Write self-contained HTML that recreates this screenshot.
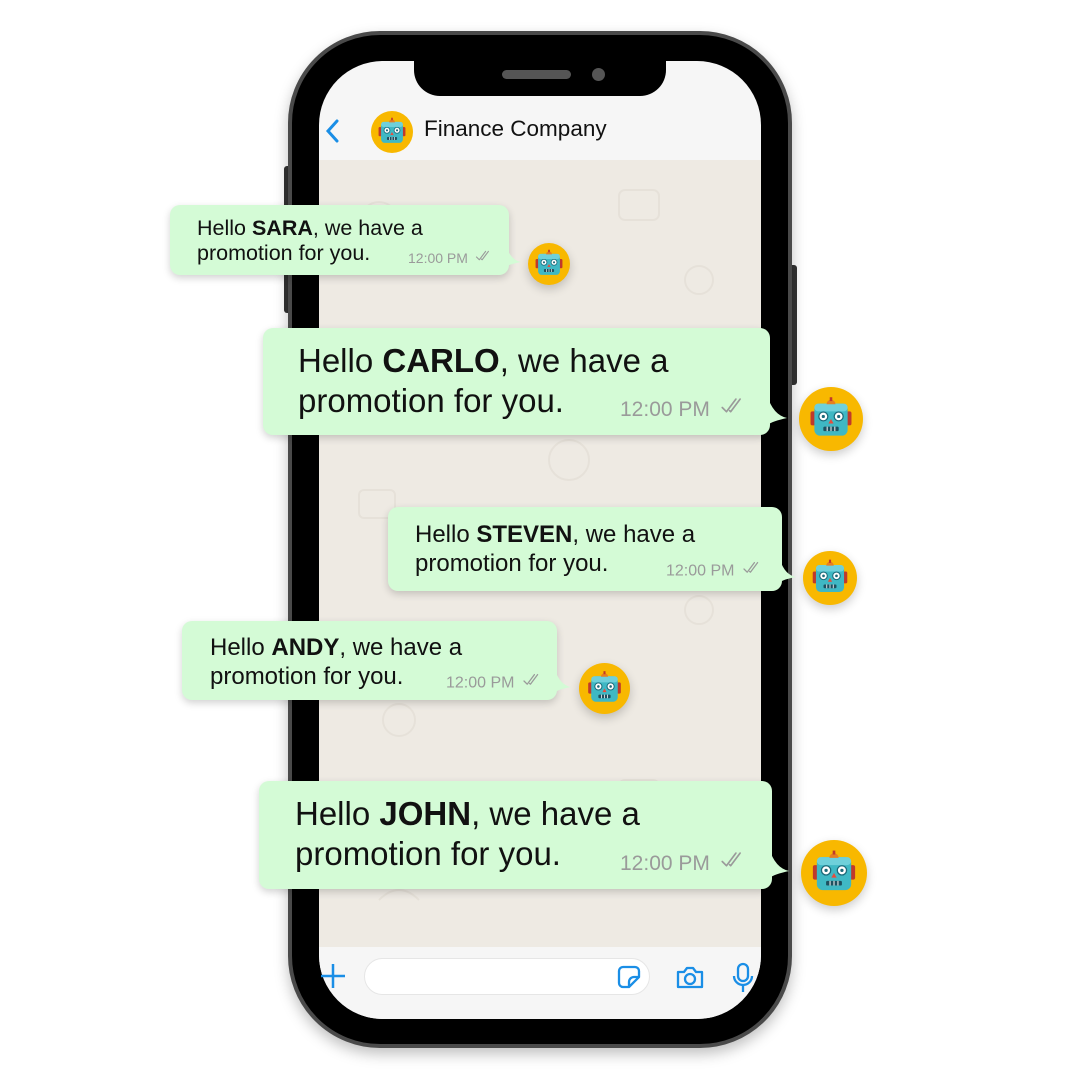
<!DOCTYPE html>
<html><head><meta charset="utf-8">
<style>
*{margin:0;padding:0;box-sizing:border-box}
body{width:1080px;height:1080px;background:#fff;position:relative;overflow:hidden;font-family:"Liberation Sans",sans-serif}
.abs{position:absolute}
.phone{left:288px;top:31px;width:504px;height:1017px;border-radius:92px;background:#000;border:4px solid #4a4a4a;box-shadow:0 6px 14px rgba(0,0,0,.25)}
.screen{left:319px;top:61px;width:442px;height:958px;border-radius:64px;background:#f6f6f6;overflow:hidden}
.chat{left:0;top:99px;width:442px;height:787px;background:#eeeae3}
.notch{left:414px;top:58px;width:252px;height:38px;background:#000;border-radius:0 0 26px 26px}
.bubble{background:#d4fbd6;border-radius:10px;box-shadow:0 3px 8px rgba(0,0,0,.18);color:#111}
.bubble b{font-weight:bold}
.time{color:#9a9a9a;position:absolute;white-space:nowrap}
.time svg{display:inline-block;width:1.35em;height:0.8em;margin-left:0.35em;vertical-align:0.1em}
.av{border-radius:50%;background:#f8b800;box-shadow:0 4px 10px rgba(0,0,0,.2)}
.av svg{width:100%;height:100%;display:block}
</style></head><body>
<div class="abs" style="left:284px;top:166px;width:8px;height:147px;background:#333;border-radius:3px"></div>
<div class="abs" style="left:789px;top:265px;width:8px;height:120px;background:#333;border-radius:3px"></div>
<div class="abs phone"></div>
<div class="abs screen">
  <div class="abs chat">
    <svg width="442" height="787" style="opacity:.35">
      <g fill="none" stroke="#d8d2c8" stroke-width="2">
        <circle cx="60" cy="60" r="18"/><rect x="300" y="30" width="40" height="30" rx="6"/>
        <circle cx="380" cy="120" r="14"/><path d="M120 200 q20 -20 40 0 t40 0"/>
        <rect x="40" y="330" width="36" height="28" rx="5"/><circle cx="250" cy="300" r="20"/>
        <path d="M150 480 l20 20 l20 -20"/><circle cx="80" cy="560" r="16"/>
        <rect x="300" y="620" width="40" height="30" rx="6"/><circle cx="200" cy="700" r="18"/>
        <circle cx="380" cy="450" r="14"/><path d="M60 740 q20 -20 40 0"/>
      </g>
    </svg>
  </div>
  <div class="abs" style="left:0;top:886px;width:442px;height:72px;background:#f6f6f6"></div>
</div>
<div class="abs notch"></div>
<div class="abs" style="left:502px;top:70px;width:69px;height:9px;border-radius:5px;background:#555"></div>
<div class="abs" style="left:592px;top:68px;width:13px;height:13px;border-radius:50%;background:#555"></div>
<!-- header -->
<svg class="abs" style="left:322px;top:118px" width="20" height="26"><path d="M15 3 L6 13 L15 23" stroke="#1a8ee6" stroke-width="3" fill="none" stroke-linecap="round"/></svg>
<div class="abs av" style="left:371px;top:111px;width:42px;height:42px;box-shadow:none"><svg viewBox="0 0 100 100"><use href="#robot"/></svg></div>
<div class="abs" style="left:424px;top:116px;font-size:22.5px;color:#111">Finance Company</div>

<svg width="0" height="0" style="position:absolute"><defs>
<g id="robot">
<rect x="18" y="38" width="8" height="22" rx="3" fill="#c0392b"/>
<rect x="74" y="38" width="8" height="22" rx="3" fill="#c0392b"/>
<rect x="24" y="26" width="52" height="50" rx="9" fill="#3fb8c4"/>
<rect x="24" y="26" width="52" height="12" rx="6" fill="#6fd0da"/>
<path d="M43 27 a7 7 0 0 1 14 0 z" fill="#e67e22"/>
<rect x="48" y="16" width="4" height="6" fill="#c0392b"/>
<circle cx="38" cy="46" r="7" fill="#fff" stroke="#1d6a7a" stroke-width="2"/>
<circle cx="62" cy="46" r="7" fill="#fff" stroke="#1d6a7a" stroke-width="2"/>
<circle cx="38" cy="46" r="2.5" fill="#1d6a7a"/><circle cx="62" cy="46" r="2.5" fill="#1d6a7a"/>
<path d="M50 50 L46 57 L54 57 z" fill="#e74c3c"/>
<rect x="38" y="62" width="24" height="7" rx="2" fill="#1d5060"/>
<path d="M44 62v7M50 62v7M56 62v7" stroke="#fff" stroke-width="1.5"/>
</g>
<g id="ck"><path d="M1 10 L5 14 L14 2 M8 13 L9 14 L18 2" fill="none" stroke="#9a9a9a" stroke-width="1.6" stroke-linecap="round" stroke-linejoin="round"/></g>
</defs></svg>

<!-- SARA -->
<div class="abs bubble" style="left:170px;top:205px;width:339px;height:70px">
 <div class="abs" style="left:27px;top:11px;font-size:21.5px;line-height:25px;white-space:nowrap">Hello <b>SARA</b>, we have a<br>promotion for you.</div>
 <div class="time" style="left:238px;top:45px;font-size:14px">12:00 PM<svg viewBox="0 0 19 16"><use href="#ck"/></svg></div>
</div>
<svg class="abs" style="left:507px;top:248px" width="16" height="18"><path d="M0 0 Q4 12 14 14 Q4 16 0 18z" fill="#d4fbd6"/></svg>
<div class="abs av" style="left:528px;top:243px;width:42px;height:42px"><svg viewBox="0 0 100 100"><use href="#robot"/></svg></div>

<!-- CARLO -->
<div class="abs bubble" style="left:263px;top:328px;width:507px;height:107px">
 <div class="abs" style="left:35px;top:13px;font-size:33px;line-height:40px;white-space:nowrap">Hello <b>CARLO</b>, we have a<br>promotion for you.</div>
 <div class="time" style="left:357px;top:69px;font-size:21px">12:00 PM<svg viewBox="0 0 19 16"><use href="#ck"/></svg></div>
</div>
<svg class="abs" style="left:767px;top:395px" width="22" height="30"><path d="M0 0 Q6 20 20 23 Q6 26 0 30z" fill="#d4fbd6"/></svg>
<div class="abs av" style="left:799px;top:387px;width:64px;height:64px"><svg viewBox="0 0 100 100"><use href="#robot"/></svg></div>

<!-- STEVEN -->
<div class="abs bubble" style="left:388px;top:507px;width:394px;height:84px">
 <div class="abs" style="left:27px;top:13px;font-size:24px;line-height:29px;white-space:nowrap">Hello <b>STEVEN</b>, we have a<br>promotion for you.</div>
 <div class="time" style="left:278px;top:54px;font-size:16px">12:00 PM<svg viewBox="0 0 19 16"><use href="#ck"/></svg></div>
</div>
<svg class="abs" style="left:780px;top:560px" width="18" height="22"><path d="M0 0 Q5 15 16 17 Q5 19 0 22z" fill="#d4fbd6"/></svg>
<div class="abs av" style="left:803px;top:551px;width:54px;height:54px"><svg viewBox="0 0 100 100"><use href="#robot"/></svg></div>

<!-- ANDY -->
<div class="abs bubble" style="left:182px;top:621px;width:375px;height:79px">
 <div class="abs" style="left:28px;top:12px;font-size:24px;line-height:29px;white-space:nowrap">Hello <b>ANDY</b>, we have a<br>promotion for you.</div>
 <div class="time" style="left:264px;top:52px;font-size:16px">12:00 PM<svg viewBox="0 0 19 16"><use href="#ck"/></svg></div>
</div>
<svg class="abs" style="left:555px;top:670px" width="18" height="22"><path d="M0 0 Q5 15 16 17 Q5 19 0 22z" fill="#d4fbd6"/></svg>
<div class="abs av" style="left:579px;top:663px;width:51px;height:51px"><svg viewBox="0 0 100 100"><use href="#robot"/></svg></div>

<!-- JOHN -->
<div class="abs bubble" style="left:259px;top:781px;width:513px;height:108px">
 <div class="abs" style="left:36px;top:13px;font-size:33px;line-height:40px;white-space:nowrap">Hello <b>JOHN</b>, we have a<br>promotion for you.</div>
 <div class="time" style="left:361px;top:70px;font-size:21px">12:00 PM<svg viewBox="0 0 19 16"><use href="#ck"/></svg></div>
</div>
<svg class="abs" style="left:769px;top:848px" width="22" height="30"><path d="M0 0 Q6 20 20 23 Q6 26 0 30z" fill="#d4fbd6"/></svg>
<div class="abs av" style="left:801px;top:840px;width:66px;height:66px"><svg viewBox="0 0 100 100"><use href="#robot"/></svg></div>

<!-- bottom bar -->
<svg class="abs" style="left:319px;top:962px" width="28" height="28"><path d="M14 2v24M2 14h24" stroke="#1a8ee6" stroke-width="2.5"/></svg>
<div class="abs" style="left:364px;top:958px;width:286px;height:37px;border-radius:19px;background:#fff;border:1px solid #e6e6e6"></div>
<svg class="abs" style="left:616px;top:964px" width="26" height="26"><path d="M13 23 H7 a4 4 0 0 1-4-4 V7 a4 4 0 0 1 4-4 h12 a4 4 0 0 1 4 4 v6 z M13 23 v-5 a5 5 0 0 1 5-5 h5" stroke="#1a8ee6" stroke-width="2.3" fill="none" stroke-linejoin="round"/></svg>
<svg class="abs" style="left:674px;top:963px" width="32" height="28"><path d="M4 9 h6 l3-4 h6 l3 4 h6 v15 h-24z" stroke="#1a8ee6" stroke-width="2.3" fill="none" stroke-linejoin="round"/><circle cx="16" cy="16" r="5" stroke="#1a8ee6" stroke-width="2.3" fill="none"/></svg>
<svg class="abs" style="left:731px;top:962px" width="24" height="32"><rect x="7" y="2" width="10" height="17" rx="5" stroke="#1a8ee6" stroke-width="2.3" fill="none"/><path d="M3 14 a9 9 0 0 0 18 0 M12 23v7" stroke="#1a8ee6" stroke-width="2.3" fill="none"/></svg>
</body></html>
